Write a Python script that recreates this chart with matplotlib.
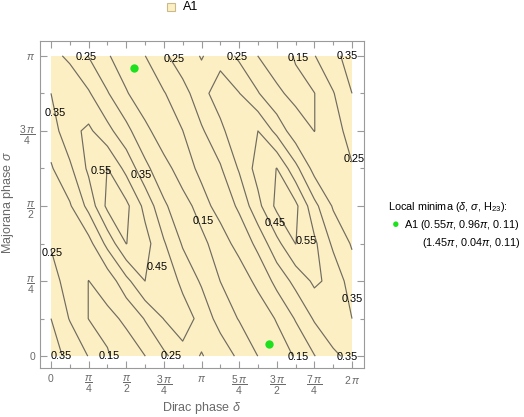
"""Contour map of H23 over the Dirac and Majorana phases for texture A1."""

import matplotlib

matplotlib.use("Agg")

import matplotlib.pyplot as plt
import numpy as np
from matplotlib.patches import Rectangle

plt.rcParams["font.family"] = ["Liberation Sans", "DejaVu Sans"]
plt.rcParams["mathtext.fontset"] = "custom"
plt.rcParams["mathtext.rm"] = "Liberation Sans"
plt.rcParams["mathtext.it"] = "Liberation Sans:italic"

# phase grid, in units of pi
delta_nodes = [0.0, 0.125, 0.25, 0.375, 0.5, 0.625, 0.75, 0.875, 1.0,
               1.125, 1.25, 1.375, 1.5, 1.625, 1.75, 1.875, 2.0]
sigma_nodes = [0.0, 0.125, 0.25, 0.375, 0.5, 0.625, 0.75, 0.875, 1.0]

# H23, one row per sigma node (bottom to top)
h23 = [
    [0.38, 0.33, 0.246, 0.156, 0.115, 0.149, 0.23, 0.31, 0.355, 0.31, 0.23, 0.149, 0.115, 0.156, 0.246, 0.33, 0.38],
    [0.35, 0.244, 0.148, 0.13, 0.163, 0.257, 0.353, 0.41, 0.311, 0.212, 0.144, 0.112, 0.155, 0.258, 0.361, 0.424, 0.35],
    [0.30, 0.196, 0.149, 0.187, 0.32, 0.45, 0.44, 0.32, 0.238, 0.149, 0.118, 0.165, 0.282, 0.38, 0.47, 0.42, 0.30],
    [0.24, 0.19, 0.214, 0.38, 0.552, 0.49, 0.36, 0.24, 0.163, 0.125, 0.169, 0.28, 0.42, 0.552, 0.47, 0.33, 0.24],
    [0.22, 0.239, 0.38, 0.575, 0.575, 0.42, 0.27, 0.17, 0.13, 0.17, 0.27, 0.42, 0.575, 0.575, 0.38, 0.239, 0.22],
    [0.24, 0.33, 0.47, 0.552, 0.42, 0.28, 0.169, 0.125, 0.163, 0.24, 0.36, 0.49, 0.552, 0.38, 0.214, 0.19, 0.24],
    [0.30, 0.42, 0.47, 0.38, 0.282, 0.165, 0.118, 0.149, 0.238, 0.32, 0.44, 0.45, 0.32, 0.187, 0.149, 0.196, 0.30],
    [0.35, 0.424, 0.361, 0.258, 0.155, 0.112, 0.144, 0.212, 0.311, 0.41, 0.353, 0.257, 0.163, 0.13, 0.148, 0.244, 0.35],
    [0.38, 0.33, 0.246, 0.156, 0.115, 0.149, 0.23, 0.31, 0.355, 0.31, 0.23, 0.149, 0.115, 0.156, 0.246, 0.33, 0.38],
]
levels = [0.15, 0.25, 0.35, 0.45, 0.55]

# contour labels as placed in the reference: (delta/pi, sigma/pi, level)
label_spots = [
    (0.233, 0.997, 0.25), (0.817, 0.99, 0.25), (1.236, 0.997, 0.25), (1.641, 0.993, 0.15), (1.967, 1.0, 0.35),
    (0.066, 0.0, 0.35), (0.385, 0.0, 0.15), (0.797, 0.0, 0.25), (1.641, -0.003, 0.15), (1.967, -0.003, 0.35),
    (0.027, 0.809, 0.35), (0.007, 0.342, 0.25), (2.013, 0.655, 0.25), (2.0, 0.191, 0.35),
    (0.332, 0.615, 0.55), (0.598, 0.602, 0.35), (0.704, 0.296, 0.45),
    (1.01, 0.451, 0.15), (1.488, 0.444, 0.45), (1.694, 0.385, 0.55),
]

# local minima (delta/pi, sigma/pi, H23)
min_delta = [0.55, 1.45]
min_sigma = [0.96, 0.04]
min_h23 = [0.11, 0.11]

x_ticks = [0, 0.25, 0.5, 0.75, 1.0, 1.25, 1.5, 1.75, 2.0]
x_ticklabels = ["0", r"$\dfrac{\pi}{4}$", r"$\dfrac{\pi}{2}$", r"$\dfrac{3\,\pi}{4}$", r"$\pi$",
                r"$\dfrac{5\,\pi}{4}$", r"$\dfrac{3\,\pi}{2}$", r"$\dfrac{7\,\pi}{4}$", r"$2\,\pi$"]
y_ticks = [0, 0.25, 0.5, 0.75, 1.0]
y_ticklabels = ["0", r"$\dfrac{\pi}{4}$", r"$\dfrac{\pi}{2}$", r"$\dfrac{3\,\pi}{4}$", r"$\pi$"]

FILL = "#fcefc3"
LINE = "#6f6b5f"
GREY = "#6a6a6a"

fig = plt.figure(figsize=(5.24, 4.17), dpi=100)
ax = fig.add_axes([40 / 524, 1 - 368 / 417, 324 / 524, 327 / 417])

dd, ss = np.meshgrid(delta_nodes, sigma_nodes)
hh = np.array(h23)
ax.contourf(dd, ss, hh, levels=[hh.min() - 1, hh.max() + 1], colors=[FILL])
ax.contour(dd, ss, hh, levels=levels, colors=LINE, linewidths=0.85)
for d, s, lev in label_spots:
    ax.text(d, s, f"{lev:.2f}", ha="center", va="center", fontsize=7.8, color="black")
ax.plot(min_delta, min_sigma, "o", color="#1fe01f", markersize=6, markeredgewidth=0)

ax.set_xlim(-11 / 150.5, 2 + 12 / 150.5)
ax.set_ylim(-12 / 304, 1 + 15 / 304)
ax.set_xticks(x_ticks, x_ticklabels)
ax.set_yticks(y_ticks, y_ticklabels)
ax.set_xticks(np.arange(0.125, 2, 0.25), minor=True)
ax.set_yticks(np.arange(0.125, 1, 0.25), minor=True)
ax.tick_params(which="both", direction="in", top=True, right=True, color="#9a9a9a",
               labelcolor=GREY, labelsize=7.5)
ax.tick_params(which="major", length=5, width=0.8)
ax.tick_params(which="minor", length=3, width=0.8)
ax.tick_params(axis="x", pad=4)
for spine in ax.spines.values():
    spine.set_color("#9a9a9a")
    spine.set_linewidth(0.8)
fig.text(202 / 524, 1 - 408 / 417, r"Dirac phase $\delta$", fontsize=9, color=GREY, ha="center", va="center")
fig.text(8 / 524, 1 - 202 / 417, r"Majorana phase $\sigma$", fontsize=9, color=GREY, ha="center", va="center",
         rotation=90)

# top legend swatch
fig.patches.append(Rectangle((167 / 524, 1 - 11 / 417), 8 / 524, 8 / 417, transform=fig.transFigure,
                             facecolor=FILL, edgecolor="#c9b98c", linewidth=0.8))
fig.text(183 / 524, 1 - 7 / 417, "A1", fontsize=9, va="center", color="black")

# minima legend
fig.text(388 / 524, 1 - 207 / 417, r"Local minima ($\delta$, $\sigma$, H$_{23}$):", fontsize=7.8, va="center")
fig.text(392 / 524, 1 - 225 / 417, "\u25cf", fontsize=9, color="#1fe01f", va="center")
fig.text(404 / 524, 1 - 225 / 417,
         rf"A1 ({min_delta[0]:.2f}$\pi$, {min_sigma[0]:.2f}$\pi$, {min_h23[0]:.2f})", fontsize=7.8, va="center")
fig.text(422 / 524, 1 - 243 / 417,
         rf"({min_delta[1]:.2f}$\pi$, {min_sigma[1]:.2f}$\pi$, {min_h23[1]:.2f})", fontsize=7.8, va="center")

fig.savefig("out.png", dpi=100)
